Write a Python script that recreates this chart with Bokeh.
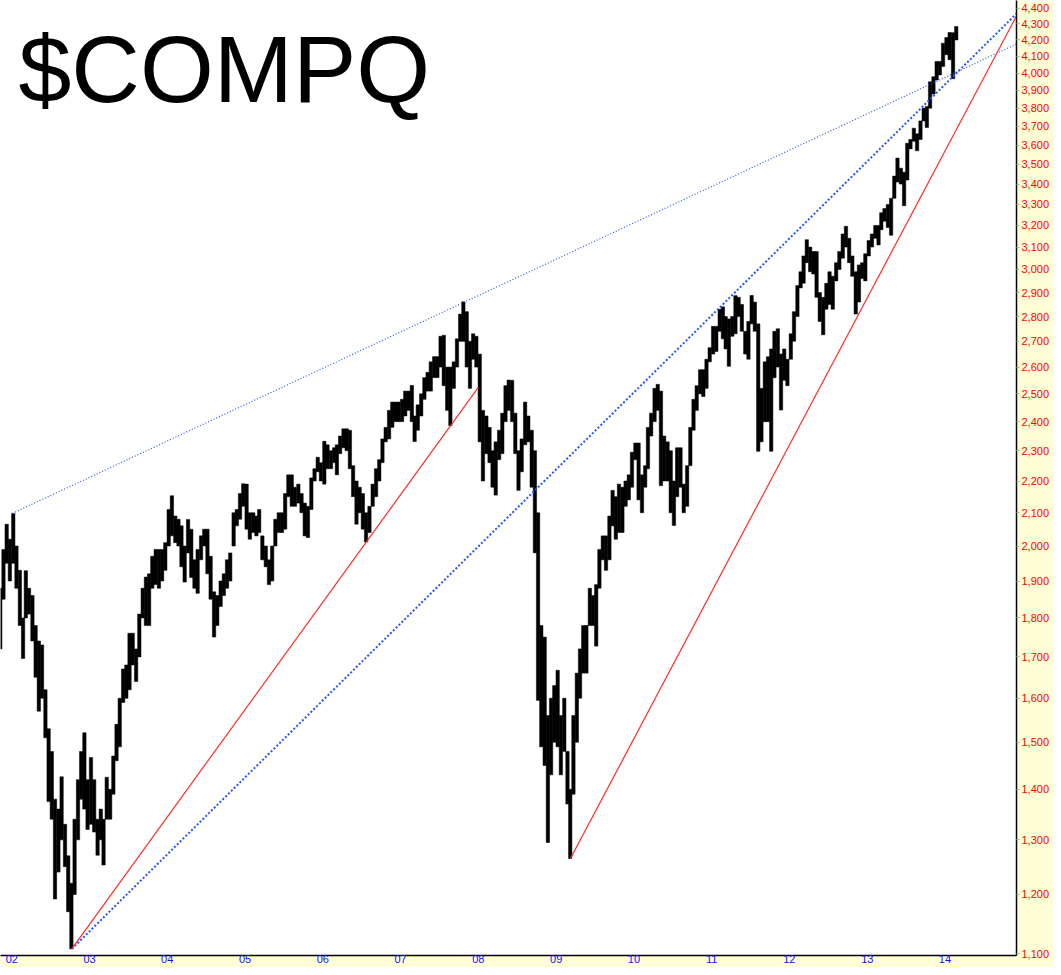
import datetime as dt
import math
from bokeh.plotting import figure
from bokeh.models import (FixedTicker, NumeralTickFormatter, DatetimeTickFormatter,
                          Range1d, Label, ColumnDataSource)
from bokeh.embed import file_html
from bokeh.resources import INLINE

TITLE = "$COMPQ"

# Half-month price ranges (high / low).
# Each year: Jan 1st half, Jan 2nd half, Feb 1st half, ... Dec 2nd half.
HIGH_2001 = [1880, 1990, 2065, 2020]          # November, December
LOW_2001 = [1720, 1850, 1950, 1900]
HIGH_2002 = [2098, 2000, 1930, 1800, 1929, 1880, 1860, 1780, 1740, 1730, 1620, 1530,
             1480, 1380, 1360, 1426, 1330, 1270, 1220, 1340, 1420, 1480, 1521, 1420]
LOW_2002 = [1950, 1880, 1780, 1696, 1800, 1810, 1740, 1650, 1570, 1600, 1510, 1375,
            1340, 1192, 1240, 1300, 1250, 1170, 1108, 1200, 1300, 1380, 1360, 1320]
HIGH_2003 = [1467, 1420, 1340, 1360, 1340, 1425, 1400, 1470, 1540, 1600, 1670, 1680,
             1760, 1760, 1720, 1810, 1880, 1911, 1920, 1970, 1990, 1990, 1990, 2010]
LOW_2003 = [1330, 1315, 1271, 1300, 1253, 1340, 1340, 1390, 1460, 1490, 1590, 1600,
            1620, 1680, 1640, 1700, 1800, 1780, 1780, 1880, 1890, 1880, 1900, 1930]
HIGH_2004 = [2110, 2153, 2090, 2080, 2060, 2000, 2079, 2050, 1960, 1990, 2030, 2050,
             2050, 1970, 1870, 1860, 1900, 1920, 1960, 1980, 2100, 2110, 2160, 2191]
LOW_2004 = [2000, 2030, 2010, 2000, 1940, 1897, 1980, 1910, 1880, 1866, 1960, 2000,
            1920, 1850, 1750, 1780, 1830, 1860, 1880, 1900, 2000, 2060, 2080, 2120]
HIGH_2005 = [2190, 2100, 2100, 2090, 2110, 2030, 2000, 1960, 2000, 2080, 2100, 2100,
             2160, 2220, 2220, 2180, 2190, 2160, 2130, 2120, 2210, 2240, 2278, 2260]
LOW_2005 = [2050, 2020, 2040, 2030, 2040, 1960, 1940, 1890, 1900, 2000, 2040, 2040,
            2050, 2150, 2120, 2120, 2130, 2100, 2030, 2025, 2110, 2200, 2230, 2200]
HIGH_2006 = [2332, 2320, 2300, 2310, 2320, 2350, 2375, 2375, 2370, 2250, 2200, 2180,
             2160, 2100, 2120, 2190, 2240, 2270, 2340, 2380, 2440, 2470, 2470, 2470]
LOW_2006 = [2190, 2240, 2240, 2260, 2220, 2290, 2310, 2300, 2240, 2150, 2065, 2100,
            2050, 2012, 2040, 2120, 2150, 2200, 2260, 2330, 2340, 2380, 2400, 2400]
HIGH_2007 = [2480, 2510, 2510, 2531, 2420, 2460, 2500, 2560, 2580, 2620, 2640, 2640,
             2720, 2724, 2600, 2600, 2620, 2710, 2810, 2861, 2820, 2700, 2730, 2720]
LOW_2007 = [2400, 2420, 2440, 2400, 2331, 2370, 2420, 2480, 2510, 2510, 2560, 2560,
            2600, 2530, 2440, 2386, 2520, 2600, 2700, 2700, 2600, 2520, 2630, 2600]
HIGH_2008 = [2650, 2440, 2420, 2380, 2300, 2330, 2370, 2430, 2530, 2551, 2550, 2430,
             2300, 2340, 2470, 2420, 2370, 2300, 2100, 1780, 1750, 1560, 1600, 1630]
LOW_2008 = [2330, 2200, 2290, 2260, 2180, 2155, 2270, 2290, 2400, 2440, 2400, 2290,
            2170, 2230, 2320, 2330, 2180, 1980, 1595, 1490, 1450, 1295, 1430, 1500]
HIGH_2009 = [1667, 1560, 1600, 1480, 1400, 1560, 1660, 1720, 1780, 1780, 1880, 1860,
             1890, 1990, 2030, 2030, 2090, 2170, 2150, 2190, 2180, 2200, 2220, 2295]
LOW_2009 = [1490, 1430, 1480, 1370, 1265, 1390, 1500, 1600, 1660, 1660, 1780, 1780,
            1727, 1880, 1960, 1930, 1960, 2060, 2020, 2040, 2040, 2120, 2140, 2180]
HIGH_2010 = [2326, 2326, 2220, 2250, 2380, 2430, 2520, 2535, 2510, 2350, 2330, 2300,
             2200, 2310, 2310, 2190, 2250, 2380, 2480, 2530, 2590, 2590, 2630, 2675]
LOW_2010 = [2270, 2140, 2100, 2180, 2240, 2350, 2400, 2440, 2185, 2200, 2200, 2100,
            2061, 2150, 2180, 2100, 2120, 2250, 2370, 2440, 2500, 2490, 2520, 2620]
HIGH_2011 = [2760, 2760, 2830, 2840, 2800, 2790, 2800, 2887, 2880, 2850, 2740, 2780,
             2888, 2860, 2770, 2520, 2620, 2640, 2670, 2740, 2750, 2650, 2670, 2630]
LOW_2011 = [2650, 2660, 2740, 2710, 2670, 2603, 2720, 2730, 2800, 2740, 2650, 2630,
            2770, 2740, 2298, 2330, 2400, 2400, 2298, 2560, 2600, 2441, 2550, 2530]
HIGH_2012 = [2730, 2820, 2930, 2990, 3060, 3134, 3100, 3080, 3080, 2900, 2880, 2940,
             2990, 2970, 3030, 3080, 3160, 3196, 3140, 3060, 2990, 3020, 3030, 3070]
LOW_2012 = [2630, 2700, 2800, 2920, 2940, 3030, 2990, 2980, 2880, 2780, 2726, 2830,
            2850, 2830, 2950, 3000, 3050, 3100, 3030, 2970, 2810, 2860, 2960, 2950]
HIGH_2013 = [3130, 3160, 3200, 3200, 3260, 3280, 3300, 3330, 3440, 3532, 3480, 3460,
             3610, 3630, 3690, 3660, 3730, 3800, 3810, 3950, 3980, 4070, 4070, 4180]
LOW_2013 = [3060, 3100, 3140, 3110, 3180, 3220, 3190, 3154, 3330, 3410, 3400, 3294,
            3420, 3580, 3620, 3570, 3630, 3730, 3694, 3800, 3880, 3960, 3990, 4040]
HIGH_2014 = [4215, 4246, 4245, 4284]   # Jan, Feb only
LOW_2014 = [4110, 4080, 3968, 4200]

YEAR_TABLE = [
    (2001, 11, HIGH_2001, LOW_2001), (2002, 1, HIGH_2002, LOW_2002),
    (2003, 1, HIGH_2003, LOW_2003), (2004, 1, HIGH_2004, LOW_2004),
    (2005, 1, HIGH_2005, LOW_2005), (2006, 1, HIGH_2006, LOW_2006),
    (2007, 1, HIGH_2007, LOW_2007), (2008, 1, HIGH_2008, LOW_2008),
    (2009, 1, HIGH_2009, LOW_2009), (2010, 1, HIGH_2010, LOW_2010),
    (2011, 1, HIGH_2011, LOW_2011), (2012, 1, HIGH_2012, LOW_2012),
    (2013, 1, HIGH_2013, LOW_2013), (2014, 1, HIGH_2014, LOW_2014),
]

# Trendlines (start / end anchors)
UPPER_BLUE_DATES = ["2002-01-04", "2014-12-03"]
UPPER_BLUE_VALUES = [2098, 4175]
STEEP_BLUE_DATES = ["2002-10-10", "2014-12-03"]
STEEP_BLUE_VALUES = [1108, 4365]
RED1_DATES = ["2002-10-10", "2008-01-02"]
RED1_VALUES = [1108, 2525]
RED2_DATES = ["2009-03-09", "2014-12-03"]
RED2_VALUES = [1265, 4350]

Y_TICKS = list(range(1100, 4500, 100))
X_TICK_YEARS = list(range(2002, 2015))

# ---------------------------------------------------------------
xs, highs, lows = [], [], []
for year, m0, hi, lo in YEAR_TABLE:
    for i, (h, l) in enumerate(zip(hi, lo)):
        month = m0 + i // 2
        day = 8 if i % 2 == 0 else 23
        xs.append(dt.datetime(year, month, day))
        highs.append(h)
        lows.append(l)

src = ColumnDataSource(dict(x=xs, top=highs, bottom=lows))

EPOCH = dt.datetime(1970, 1, 1)
x_start = dt.datetime(2001, 11, 9)
x_end = dt.datetime(2014, 12, 3)
y_start = 1097.3
y_end = 4450.0
FRAME_W = 1016
FRAME_H = 955

p = figure(width=1053, height=967, x_axis_type="datetime", y_axis_type="log",
           y_axis_location="right", output_backend="svg", toolbar_location=None,
           x_range=Range1d(x_start, x_end), y_range=Range1d(y_start, y_end),
           min_border_left=0, min_border_top=0, min_border_right=1053 - FRAME_W,
           min_border_bottom=967 - FRAME_H)
p.background_fill_color = "white"
p.border_fill_color = "#FFFDD6"
p.outline_line_color = None
p.xgrid.visible = False
p.ygrid.visible = False

# price bars
half_month_ms = 15.8 * 86400000
p.vbar(x="x", top="top", bottom="bottom", width=half_month_ms, source=src,
       fill_color="black", line_color="black", line_width=0.5)


def dts(lst):
    return [dt.datetime.fromisoformat(s) for s in lst]


p.line(dts(UPPER_BLUE_DATES), UPPER_BLUE_VALUES, line_color="#2A55FF",
       line_width=1.2, line_dash="1 2")
p.line(dts(STEEP_BLUE_DATES), STEEP_BLUE_VALUES, line_color="#2A55FF",
       line_width=2, line_dash="2 2")
p.line(dts(RED1_DATES), RED1_VALUES, line_color="#FF2A2A", line_width=1.2)
p.line(dts(RED2_DATES), RED2_VALUES, line_color="#FF2A2A", line_width=1.2)

# title text inside the plot (anchored by its vertical centre)
span_ms = (x_end - x_start).total_seconds() * 1000.0
t0_ms = (x_start - EPOCH).total_seconds() * 1000.0
lab_x = t0_ms + span_ms * (18.0 / FRAME_W)
log_span = math.log(y_end / y_start)
lab_y = y_start * math.exp(log_span * ((FRAME_H - 68) / FRAME_H))
p.add_layout(Label(x=lab_x, y=lab_y, text=TITLE, text_font="Liberation Sans",
                   text_font_size="95px", text_color="black",
                   text_align="left", text_baseline="alphabetic"))

# y axis (right)
ya = p.yaxis[0]
ya.ticker = FixedTicker(ticks=Y_TICKS, minor_ticks=[])
ya.formatter = NumeralTickFormatter(format="0,0")
ya.major_label_text_color = "#FF0000"
ya.major_label_text_font = "Liberation Sans"
ya.major_label_text_font_size = "11px"
ya.major_tick_in = 0
ya.major_tick_out = 3
ya.major_tick_line_color = "#B8AE8C"
ya.minor_tick_line_color = None
ya.major_label_standoff = 2
ya.axis_line_color = "black"
ya.axis_line_width = 1.5

# x axis (bottom)
xa = p.xaxis[0]
xa.ticker = FixedTicker(ticks=[(dt.datetime(y, 1, 1) - EPOCH).total_seconds() * 1000.0
                               for y in X_TICK_YEARS], minor_ticks=[])
xa.formatter = DatetimeTickFormatter(years="%y", months="%y", days="%y", hours="%y",
                                     minutes="%y", seconds="%y", milliseconds="%y",
                                     microseconds="%y", hourmin="%y", minsec="%y")
xa.major_label_text_color = "#1010FF"
xa.major_label_text_font = "Liberation Sans"
xa.major_label_text_font_size = "11px"
xa.major_tick_line_color = None
xa.minor_tick_line_color = None
xa.major_tick_out = 0
xa.major_label_standoff = -1
xa.axis_line_color = "black"
xa.axis_line_width = 1.5

open("out.html", "w").write(file_html(p, INLINE))
